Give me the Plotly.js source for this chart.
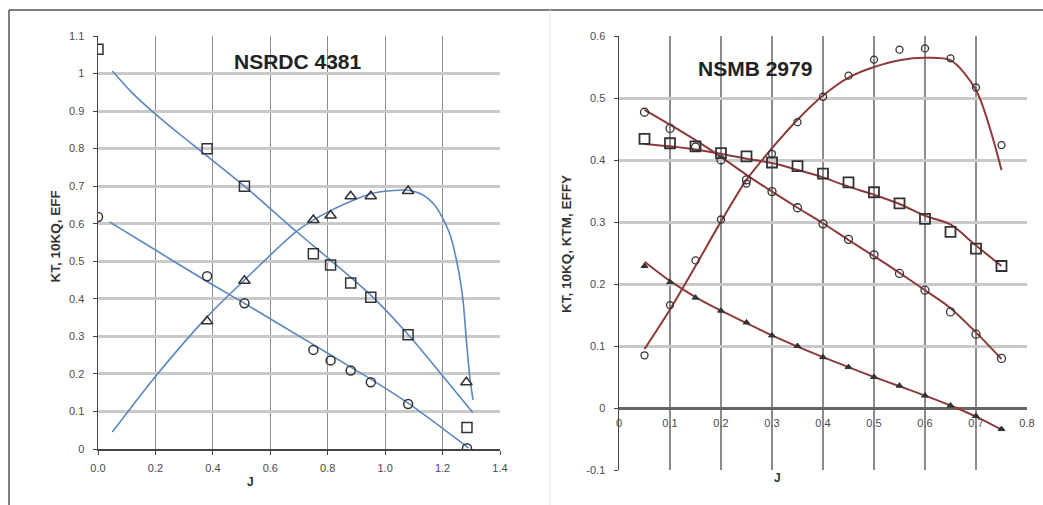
<!DOCTYPE html>
<html><head><meta charset="utf-8">
<script src="https://cdn.plot.ly/plotly-3.0.1.min.js"></script>
<style>html,body{margin:0;padding:0;background:#fff;}#chart{width:1043px;height:505px;}</style>
</head><body><div id="chart"></div>
<script>
// ---------- Left chart: NSRDC 4381 (measured points) ----------
const nsrdcJ      = [0.0, 0.38, 0.51, 0.75, 0.81, 0.88, 0.95, 1.08, 1.285];
const nsrdc10KQ   = [1.065, 0.80, 0.70, 0.52, 0.49, 0.442, 0.404, 0.304, 0.057];
const nsrdcKT     = [0.618, 0.46, 0.388, 0.264, 0.236, 0.209, 0.178, 0.12, 0.002];
const nsrdcEffJ   = [0.38, 0.51, 0.75, 0.81, 0.88, 0.95, 1.08, 1.283];
const nsrdcEff    = [0.34, 0.448, 0.61, 0.622, 0.673, 0.673, 0.687, 0.178];
// fitted curves
const fit10KQJ = [0.05, 0.12, 0.2, 0.29, 0.38, 0.51, 0.69, 0.81, 0.95, 1.08, 1.2, 1.305];
const fit10KQ  = [1.007, 0.948, 0.892, 0.835, 0.78, 0.70, 0.58, 0.503, 0.41, 0.305, 0.195, 0.097];
const fitKTJ   = [0.04, 0.2, 0.38, 0.51, 0.75, 0.88, 0.95, 1.08, 1.29];
const fitKT    = [0.605, 0.530, 0.446, 0.388, 0.278, 0.218, 0.186, 0.122, 0.003];
const fitEffJ  = [0.05, 0.2, 0.38, 0.51, 0.7, 0.81, 0.95, 1.02, 1.08, 1.13, 1.176, 1.224, 1.253, 1.271, 1.284, 1.296, 1.306];
const fitEff   = [0.045, 0.193, 0.352, 0.45, 0.585, 0.635, 0.68, 0.688, 0.689, 0.677, 0.646, 0.575, 0.486, 0.397, 0.28, 0.184, 0.131];

// ---------- Right chart: NSMB 2979 ----------
const nsmbJ     = [0.05, 0.1, 0.15, 0.2, 0.25, 0.3, 0.35, 0.4, 0.45, 0.5, 0.55, 0.6, 0.65, 0.7, 0.75];
const nsmbEff   = [0.085, 0.166, 0.238, 0.304, 0.362, 0.41, 0.461, 0.502, 0.536, 0.562, 0.578, 0.58, 0.564, 0.517, 0.424];
const nsmb10KQ  = [0.434, 0.427, 0.422, 0.411, 0.406, 0.396, 0.39, 0.378, 0.364, 0.348, 0.33, 0.305, 0.284, 0.257, 0.229];
const nsmbKT    = [0.477, 0.451, 0.421, 0.40, 0.368, 0.349, 0.323, 0.297, 0.272, 0.247, 0.217, 0.19, 0.155, 0.119, 0.08];
const nsmbKTM   = [0.229, 0.203, 0.178, 0.157, 0.138, 0.117, 0.1, 0.082, 0.066, 0.05, 0.036, 0.02, 0.004, -0.013, -0.034];
const fitNsmbEff  = [0.095, 0.159, 0.229, 0.301, 0.368, 0.419, 0.465, 0.504, 0.533, 0.55, 0.561, 0.565, 0.561, 0.513, 0.384];
const fitNsmb10KQ = [0.426, 0.422, 0.417, 0.41, 0.402, 0.395, 0.384, 0.372, 0.357, 0.344, 0.329, 0.31, 0.296, 0.262, 0.229];
const fitNsmbKT   = [0.481, 0.457, 0.432, 0.405, 0.376, 0.349, 0.323, 0.298, 0.271, 0.245, 0.218, 0.19, 0.161, 0.122, 0.079];
const fitNsmbKTM  = [0.236, 0.205, 0.179, 0.157, 0.137, 0.117, 0.099, 0.082, 0.066, 0.05, 0.035, 0.02, 0.004, -0.014, -0.035];

// tick labels
const leftXTicks  = [0, 0.2, 0.4, 0.6, 0.8, 1.0, 1.2, 1.4];
const leftXText   = ['0.0','0.2','0.4','0.6','0.8','1.0','1.2','1.4'];
const leftYTicks  = [0, 0.1, 0.2, 0.3, 0.4, 0.5, 0.6, 0.7, 0.8, 0.9, 1.0, 1.1];
const leftYText   = ['0','0.1','0.2','0.3','0.4','0.5','0.6','0.7','0.8','0.9','1','1.1'];
const rightXTicks = [0, 0.1, 0.2, 0.3, 0.4, 0.5, 0.6, 0.7, 0.8];
const rightXText  = ['0','0.1','0.2','0.3','0.4','0.5','0.6','0.7','0.8'];
const rightYTicks = [-0.1, 0, 0.1, 0.2, 0.3, 0.4, 0.5, 0.6];
const rightYText  = ['-0.1','0','0.1','0.2','0.3','0.4','0.5','0.6'];

const blue = '#5b87c0', red = '#8e3a3a', mk = '#333333';
const W = 1043, H = 505, T = 36, B = 35, PH = H - T - B;
const px = v => v / W;
const py = v => (H - B - v) / PH;

function line(x, y, color, xa, ya, w) {
  return {x, y, type:'scatter', mode:'lines', line:{color, width:w, shape:'spline', smoothing:0.8},
          xaxis:xa, yaxis:ya, hoverinfo:'skip', showlegend:false};
}
function pts(x, y, symbol, size, xa, ya, lw) {
  return {x, y, type:'scatter', mode:'markers',
          marker:{symbol, size, color:mk, line:{color:mk, width:lw}},
          xaxis:xa, yaxis:ya, showlegend:false};
}

const data = [
  line(fit10KQJ, fit10KQ, blue, 'x', 'y', 1.6),
  line(fitKTJ, fitKT, blue, 'x', 'y', 1.6),
  line(fitEffJ, fitEff, blue, 'x', 'y', 1.6),
  pts(nsrdcJ, nsrdc10KQ, 'square-open', 10, 'x', 'y', 1.5),
  pts(nsrdcJ, nsrdcKT, 'circle-open', 9, 'x', 'y', 1.5),
  pts(nsrdcEffJ, nsrdcEff, 'triangle-up-open', 10, 'x', 'y', 1.5),

  line(nsmbJ, fitNsmbEff, red, 'x2', 'y2', 2),
  line(nsmbJ, fitNsmb10KQ, red, 'x2', 'y2', 2),
  line(nsmbJ, fitNsmbKT, red, 'x2', 'y2', 2),
  line(nsmbJ, fitNsmbKTM, red, 'x2', 'y2', 2),
  pts(nsmbJ, nsmbEff, 'circle-open', 7, 'x2', 'y2', 1.3),
  pts(nsmbJ, nsmb10KQ, 'square-open', 10, 'x2', 'y2', 1.8),
  pts(nsmbJ, nsmbKT, 'circle-open', 8, 'x2', 'y2', 1.3),
  pts(nsmbJ, nsmbKTM, 'triangle-up', 6, 'x2', 'y2', 1)
];

const tickFont = {family:'Liberation Sans, Arial, sans-serif', size:11, color:'#4a4a4a'};
const gridH = {showgrid:true, gridcolor:'#c9c9c9', gridwidth:3};
const gridV = {showgrid:true, gridcolor:'#8c8c8c', gridwidth:1.2};

const layout = {
  width:W, height:H,
  margin:{l:0, r:0, t:T, b:B, pad:0},
  paper_bgcolor:'#fff', plot_bgcolor:'#fff',
  font:{family:'Liberation Sans, Arial, sans-serif', color:'#333'},
  xaxis:Object.assign({domain:[px(98), px(500)], anchor:'y', range:[0,1.4], tickvals:leftXTicks, ticktext:leftXText,
    tickfont:tickFont, showline:true, linecolor:'#444', linewidth:1.5, ticks:'outside', ticklen:4, tickcolor:'#444',
    ticklabelstandoff:4, zeroline:false, fixedrange:true}, gridV),
  yaxis:Object.assign({domain:[py(449), 1], anchor:'x', range:[0,1.1], tickvals:leftYTicks, ticktext:leftYText,
    tickfont:tickFont, showline:true, linecolor:'#444', linewidth:1.5, ticks:'outside', ticklen:4, tickcolor:'#444',
    ticklabelstandoff:6, zeroline:false, fixedrange:true}, gridH),
  xaxis2:Object.assign({domain:[px(619), px(1027)], anchor:'free', position:1/7, range:[0,0.8], tickvals:rightXTicks, ticktext:rightXText,
    tickfont:tickFont, showline:false, ticks:'', ticklabelstandoff:7, zeroline:false, fixedrange:true}, gridV),
  yaxis2:Object.assign({domain:[0, 1], anchor:'x2', range:[-0.1,0.6], tickvals:rightYTicks, ticktext:rightYText,
    tickfont:tickFont, showline:true, linecolor:'#444', linewidth:1.5, ticks:'outside', ticklen:4, tickcolor:'#444',
    ticklabelstandoff:6, zeroline:true, zerolinecolor:'#666', zerolinewidth:3, fixedrange:true}, gridH),
  annotations:[
    {text:'<b>NSRDC 4381</b>', xref:'x', yref:'y', x:0.695, y:1.031, showarrow:false,
     font:{size:21, color:'#222', family:'Liberation Sans, Arial, sans-serif'}},
    {text:'<b>NSMB 2979</b>', xref:'x2', yref:'y2', x:0.267, y:0.547, showarrow:false,
     font:{size:21, color:'#222', family:'Liberation Sans, Arial, sans-serif'}},
    {text:'<b>KT, 10KQ, EFF</b>', xref:'paper', yref:'paper', x:px(45), y:py(237), textangle:-90, showarrow:false,
     font:{size:13.5, color:'#333'}},
    {text:'<b>KT, 10KQ, KTM, EFFY</b>', xref:'paper', yref:'paper', x:px(566), y:py(244), textangle:-90, showarrow:false,
     font:{size:13.5, color:'#333'}},
    {text:'<b>J</b>', xref:'paper', yref:'paper', x:px(245), y:py(491), showarrow:false, font:{size:12, color:'#333'}},
    {text:'<b>J</b>', xref:'paper', yref:'paper', x:px(783), y:py(487), showarrow:false, font:{size:12, color:'#333'}}
  ],
  shapes:[
    {type:'line', xref:'paper', yref:'paper', x0:px(9), x1:px(1043), y0:py(10), y1:py(10), line:{color:'#555', width:1.5}},
    {type:'line', xref:'paper', yref:'paper', x0:px(9), x1:px(9), y0:py(10), y1:py(505), line:{color:'#555', width:1.5}},
    {type:'line', xref:'paper', yref:'paper', x0:px(550), x1:px(550), y0:py(10), y1:py(505), line:{color:'#e6e6e6', width:1}}
  ]
};

Plotly.newPlot('chart', data, layout, {staticPlot:true, displayModeBar:false});
</script></body></html>
